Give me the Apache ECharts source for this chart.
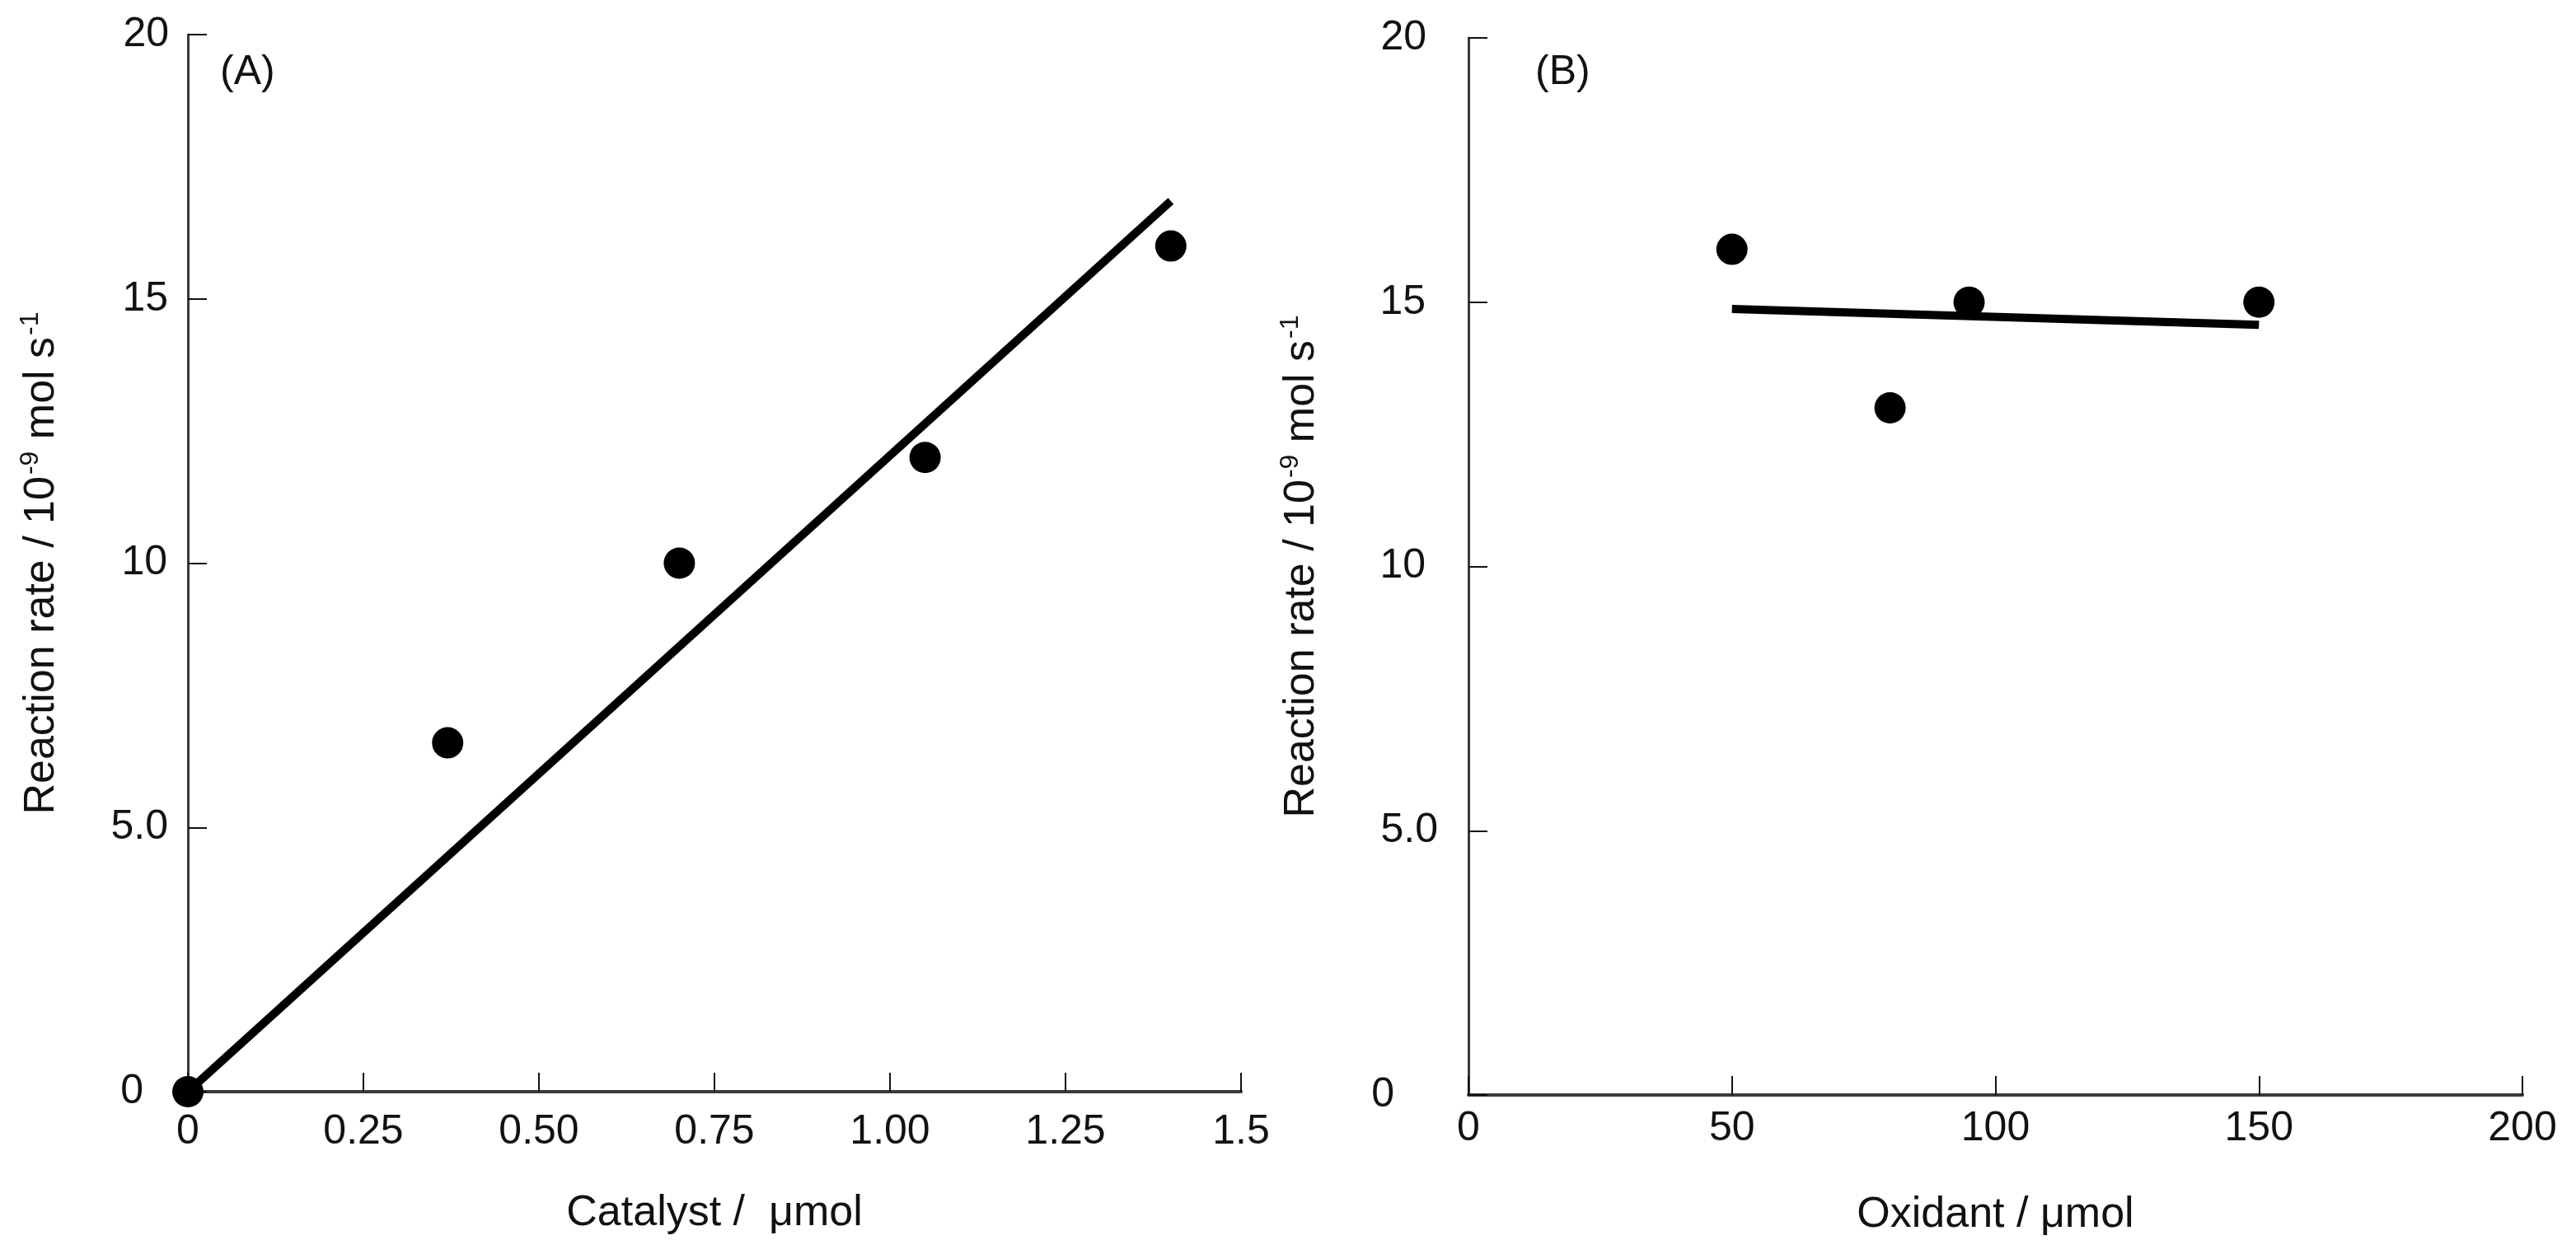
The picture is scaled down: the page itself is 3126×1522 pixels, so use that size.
<!DOCTYPE html>
<html lang="en">
<head>
    <meta charset="UTF-8">
    <title>Reaction rate</title>
    <script src="https://cdn.jsdelivr.net/npm/echarts@6/dist/echarts.min.js"></script>
    <style>
        html, body {
            margin: 0;
            padding: 0;
            background: #fff;
        }
        #chart {
            width: 3126px;
            height: 1522px;
        }
    </style>
</head>
<body>
<div id="chart"></div>
<script>
    // panel A: catalyst amount
    var catalystX = [0, 0.37, 0.70, 1.05, 1.40];
    var catalystRate = [0, 6.6, 10, 12, 16];
    var fitAX = [0, 1.40];
    var fitAY = [0, 16.85];

    // panel B: oxidant amount
    var oxidantX = [50, 80, 95, 150];
    var oxidantRate = [16, 13, 15, 15];
    var fitBX = [50, 150];
    var fitBY = [14.87, 14.57];

    // tick labels
    var rateTicks = ['0', '5.0', '10', '15', '20'];
    var catalystTicks = ['0', '0.25', '0.50', '0.75', '1.00', '1.25', '1.5'];
    var oxidantTicks = ['0', '50', '100', '150', '200'];

    var FONT = '"Liberation Sans", Arial, Helvetica, sans-serif';
    var INK = '#111';
    var AXIS = '#3a3a3a';

    function pairs(xs, ys) {
        var out = [];
        for (var i = 0; i < xs.length; i++) {
            out.push([xs[i], ys[i]]);
        }
        return out;
    }

    function rateName() {
        return '{a|Reaction rate / 10}{s|-9}{a| mol s}{s|-1}';
    }

    var nameRich = {
        a: {fontSize: 52, fontFamily: FONT, color: INK, lineHeight: 60},
        s: {fontSize: 32, fontFamily: FONT, color: INK, verticalAlign: 'top', lineHeight: 60, padding: [0, 0, 22, 2]}
    };

    // y axis labels: the "0" sits further out than the rest
    function yAxis(gridIndex, margin, pads) {
        return {
            type: 'value',
            gridIndex: gridIndex,
            min: 0,
            max: 20,
            interval: 5,
            name: rateName(),
            nameLocation: 'middle',
            nameGap: gridIndex === 0 ? 147 : 172,
            nameTextStyle: {rich: nameRich},
            axisLine: {show: true, lineStyle: {color: AXIS, width: 3}},
            axisTick: {show: true, inside: true, length: 23, lineStyle: {color: INK, width: 2}},
            splitLine: {show: false},
            axisLabel: {
                margin: margin,
                fontSize: 50,
                fontFamily: FONT,
                color: INK,
                formatter: function (v) {
                    var i = Math.round(v / 5);
                    return '{p' + i + '|' + rateTicks[i] + '}';
                },
                rich: {
                    p0: {fontSize: 50, fontFamily: FONT, color: INK, padding: [0, pads[0], 0, 0]},
                    p1: {fontSize: 50, fontFamily: FONT, color: INK, padding: [0, pads[1], 0, 0]},
                    p2: {fontSize: 50, fontFamily: FONT, color: INK, padding: [0, pads[2], 0, 0]},
                    p3: {fontSize: 50, fontFamily: FONT, color: INK, padding: [0, pads[3], 0, 0]},
                    p4: {fontSize: 50, fontFamily: FONT, color: INK, padding: [0, pads[4], 0, 0]}
                }
            }
        };
    }

    var chart = echarts.init(document.getElementById('chart'));
    var option = {
        animation: false,
        backgroundColor: '#fff',
        title: [
            {text: '(A)', left: 262, top: 58, textStyle: {fontSize: 50, fontWeight: 'normal', fontFamily: FONT, color: INK}},
            {text: '(B)', left: 1858, top: 58, textStyle: {fontSize: 50, fontWeight: 'normal', fontFamily: FONT, color: INK}}
        ],
        grid: [
            {left: 228, top: 42, width: 1278, height: 1283},
            {left: 1782, top: 46, width: 1279, height: 1283}
        ],
        xAxis: [
            {
                type: 'value',
                gridIndex: 0,
                min: 0,
                max: 1.5,
                interval: 0.25,
                name: 'Catalyst /  μmol',
                nameLocation: 'middle',
                nameGap: 122,
                nameTextStyle: {fontSize: 52, fontFamily: FONT, color: INK},
                axisLine: {show: true, lineStyle: {color: AXIS, width: 4}},
                axisTick: {show: true, inside: true, length: 23, lineStyle: {color: INK, width: 2}},
                splitLine: {show: false},
                axisLabel: {
                    margin: 24,
                    fontSize: 50,
                    fontFamily: FONT,
                    color: INK,
                    showMaxLabel: true,
                    formatter: function (v) {
                        return catalystTicks[Math.round(v / 0.25)];
                    }
                }
            },
            {
                type: 'value',
                gridIndex: 1,
                min: 0,
                max: 200,
                interval: 50,
                name: 'Oxidant / μmol',
                nameLocation: 'middle',
                nameGap: 120,
                nameTextStyle: {fontSize: 52, fontFamily: FONT, color: INK},
                axisLine: {show: true, lineStyle: {color: AXIS, width: 4}},
                axisTick: {show: true, inside: true, length: 23, lineStyle: {color: INK, width: 2}},
                splitLine: {show: false},
                axisLabel: {
                    margin: 16,
                    fontSize: 50,
                    fontFamily: FONT,
                    color: INK,
                    formatter: function (v) {
                        return oxidantTicks[Math.round(v / 50)];
                    }
                }
            }
        ],
        yAxis: [
            yAxis(0, 23, [31, 1, 2, 1, 0]),
            yAxis(1, 37, [53, 0, 15, 15, 14])
        ],
        series: [
            {
                type: 'line',
                xAxisIndex: 0,
                yAxisIndex: 0,
                data: pairs(fitAX, fitAY),
                symbol: 'none',
                lineStyle: {color: '#000', width: 10},
                z: 2
            },
            {
                type: 'scatter',
                xAxisIndex: 0,
                yAxisIndex: 0,
                data: pairs(catalystX, catalystRate),
                symbol: 'circle',
                symbolSize: 38,
                clip: false,
                itemStyle: {color: '#000', opacity: 1},
                z: 3
            },
            {
                type: 'line',
                xAxisIndex: 1,
                yAxisIndex: 1,
                data: pairs(fitBX, fitBY),
                symbol: 'none',
                lineStyle: {color: '#000', width: 10},
                z: 2
            },
            {
                type: 'scatter',
                xAxisIndex: 1,
                yAxisIndex: 1,
                data: pairs(oxidantX, oxidantRate),
                symbol: 'circle',
                symbolSize: 38,
                clip: false,
                itemStyle: {color: '#000', opacity: 1},
                z: 3
            }
        ]
    };
    chart.setOption(option);
</script>
</body>
</html>
